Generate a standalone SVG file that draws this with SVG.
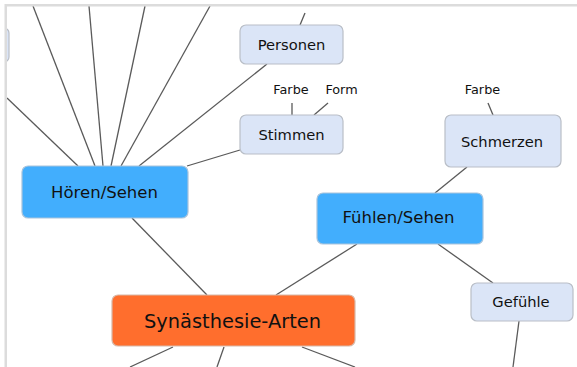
<svg xmlns="http://www.w3.org/2000/svg" width="577" height="367" viewBox="0 0 577 367">
  <style>
    .link { stroke: #5a5a5a; stroke-width: 1.3; fill: none; }
    .topic rect { fill: #dbe5f7; stroke: #b9bec7; stroke-width: 1.2; }
    .main rect { fill: #42aefd; stroke: #a9c4dc; stroke-width: 1.2; }
    .root rect { fill: #ff6e2d; stroke: #d8b8a8; stroke-width: 1.2; }
    text { font-family: "DejaVu Sans", "Liberation Sans", sans-serif; fill: #111; text-anchor: middle; }
    .small { font-size: 12.8px; }
    .node { font-size: 14.7px; }
    .big { font-size: 16.5px; }
    .huge { font-size: 19.4px; }
    .frame { fill: #dcdcdc; }
  </style>
  <rect x="0" y="0" width="577" height="367" fill="#ffffff"/>

  <g id="connectors">
    <!-- fan into Hören/Sehen -->
    <line class="link" x1="7" y1="98" x2="78" y2="166"/>
    <line class="link" x1="33" y1="6" x2="95" y2="166"/>
    <line class="link" x1="89" y1="6" x2="103" y2="166"/>
    <line class="link" x1="145" y1="6" x2="111" y2="166"/>
    <line class="link" x1="210" y1="6" x2="121" y2="166"/>
    <line class="link" x1="267" y1="64" x2="139" y2="166"/>
    <line class="link" x1="240" y1="150" x2="187" y2="166"/>
    <!-- Personen upward -->
    <line class="link" x1="305" y1="13" x2="300" y2="25"/>
    <!-- labels above Stimmen / Schmerzen -->
    <line class="link" x1="292" y1="103" x2="292" y2="115"/>
    <line class="link" x1="328" y1="103" x2="314" y2="115"/>
    <line class="link" x1="488" y1="103" x2="493" y2="115"/>
    <!-- central branches -->
    <line class="link" x1="132" y1="218" x2="207" y2="295"/>
    <line class="link" x1="276" y1="295" x2="357" y2="244"/>
    <line class="link" x1="435" y1="193" x2="467" y2="167"/>
    <line class="link" x1="438" y1="244" x2="493" y2="283"/>
    <line class="link" x1="519" y1="321" x2="513" y2="367"/>
    <line class="link" x1="173" y1="347" x2="130" y2="367"/>
    <line class="link" x1="224" y1="347" x2="217" y2="367"/>
    <line class="link" x1="302" y1="347" x2="355" y2="367"/>
  </g>

  <g id="edge-node" class="topic">
    <rect x="-40" y="28" width="49" height="34" rx="5"/>
  </g>

  <g id="personen" class="topic">
    <rect x="240" y="25" width="103" height="39" rx="6"/>
    <text class="node" x="291.5" y="50">Personen</text>
  </g>

  <g id="stimmen" class="topic">
    <rect x="240" y="115" width="103" height="39" rx="6"/>
    <text class="node" x="291.5" y="140">Stimmen</text>
  </g>

  <g id="label-farbe-1">
    <text class="small" x="291" y="94">Farbe</text>
  </g>
  <g id="label-form">
    <text class="small" x="341.5" y="94">Form</text>
  </g>
  <g id="label-farbe-2">
    <text class="small" x="482.5" y="94">Farbe</text>
  </g>

  <g id="schmerzen" class="topic">
    <rect x="445" y="115" width="116" height="52" rx="6"/>
    <text class="node" x="502" y="147">Schmerzen</text>
  </g>

  <g id="hoeren-sehen" class="main">
    <rect x="22" y="166" width="166" height="52" rx="6"/>
    <text class="big" x="104.5" y="198">Hören/Sehen</text>
  </g>

  <g id="fuehlen-sehen" class="main">
    <rect x="317" y="193" width="166" height="51" rx="6"/>
    <text class="big" x="398.5" y="223">Fühlen/Sehen</text>
  </g>

  <g id="gefuehle" class="topic">
    <rect x="471" y="283" width="102" height="38" rx="6"/>
    <text class="node" x="521" y="307">Gefühle</text>
  </g>

  <g id="synaesthesie-arten" class="root">
    <rect x="112" y="295" width="243" height="51" rx="6"/>
    <text class="huge" x="232.5" y="328">Synästhesie-Arten</text>
  </g>

  <!-- viewport frame -->
  <rect class="frame" x="0" y="0" width="577" height="4" fill="#ffffff" style="fill:#ffffff"/>
  <rect class="frame" x="0" y="0" width="5" height="367" style="fill:#ffffff"/>
  <rect class="frame" x="5" y="4" width="572" height="2.5"/>
  <rect class="frame" x="4.5" y="4" width="2.5" height="363"/>
</svg>
